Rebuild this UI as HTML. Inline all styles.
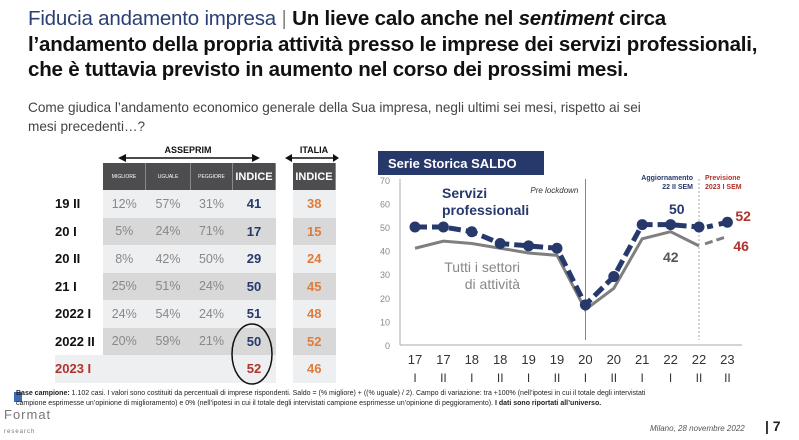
<!DOCTYPE html>
<html><head><meta charset="utf-8"><style>
body{margin:0;width:799px;height:440px;background:#fff;font-family:"Liberation Sans",sans-serif;position:relative;overflow:hidden}
.abs{position:absolute}
.title{left:28px;top:6px;font-size:20.5px;font-weight:bold;line-height:25.5px;color:#111;letter-spacing:-0.2px}
.sub{left:28px;top:98px;font-size:13.6px;line-height:19px;color:#444}
table{border-collapse:collapse}
td{padding:0;text-align:center;height:27.5px;font-size:12.5px}
</style></head><body>
<div class="abs title"><span style="color:#2b3f73;font-weight:normal">Fiducia andamento impresa</span> <span style="color:#888;font-weight:normal">|</span> Un lieve calo anche nel <i>sentiment</i> circa<br>l’andamento della propria attività presso le imprese dei servizi professionali,<br>che è tuttavia previsto in aumento nel corso dei prossimi mesi.</div>
<div class="abs sub">Come giudica l’andamento economico generale della Sua impresa, negli ultimi sei mesi, rispetto ai sei<br>mesi precedenti…?</div>

<svg class="abs" style="left:0;top:0" width="799" height="440">
<text x="188" y="153" font-size="9" font-weight="bold" text-anchor="middle" fill="#111">ASSEPRIM</text>
<line x1="122" y1="158" x2="256" y2="158" stroke="#111" stroke-width="1.5"/><polygon points="118,158 126,154 126,162" fill="#111"/><polygon points="260,158 252,154 252,162" fill="#111"/>
<text x="314" y="153" font-size="9" font-weight="bold" text-anchor="middle" fill="#111">ITALIA</text>
<line x1="289" y1="158" x2="336" y2="158" stroke="#111" stroke-width="1.5"/><polygon points="285,158 292,154 292,162" fill="#111"/><polygon points="339,158 333,154 333,162" fill="#111"/>
</svg>

<div class="abs" style="left:55px;top:163px">
<table id="t1"></table></div>
<div class="abs" style="left:293px;top:163px">
<table id="t2"></table></div>

<svg class="abs" style="left:230px;top:322px" width="50" height="64"><ellipse cx="22" cy="32" rx="20" ry="30" fill="none" stroke="#111" stroke-width="1.5"/></svg>

<svg id="chart" class="abs" style="left:350px;top:145px" width="449" height="245"></svg>

<div class="abs" style="left:14px;top:392px;width:8px;height:10px;background:#3b6bb5"></div>
<div class="abs" style="left:16px;top:389px;font-size:7px;color:#222;line-height:10px;width:760px"><b>Base campione:</b> 1.102 casi. I valori sono costituiti da percentuali di imprese rispondenti. Saldo = (% migliore) + ((% uguale) / 2). Campo di variazione: tra +100% (nell’ipotesi in cui il totale degli intervistati<br>campione esprimesse un’opinione di miglioramento) e 0% (nell’ipotesi in cui il totale degli intervistati campione esprimesse un’opinione di peggioramento). <b>I dati sono riportati all’universo.</b></div>
<div class="abs" style="left:4px;top:408px;font-size:13px;color:#777;letter-spacing:1px;line-height:14px">Format<br><span style="font-size:6px;letter-spacing:1px">research</span></div>
<div class="abs" style="left:650px;top:424px;font-size:8px;font-style:italic;color:#555">Milano, 28 novembre 2022</div>
<div class="abs" style="left:765px;top:418px;font-size:14px;font-weight:bold;color:#222">| 7</div>

<script>
const periods=["19 II","20 I","20 II","21 I","2022 I","2022 II","2023 I"];
const migliore=["12%","5%","8%","25%","24%","20%",""];
const uguale=["57%","24%","42%","51%","54%","59%",""];
const peggiore=["31%","71%","50%","24%","24%","21%",""];
const indice=[41,17,29,50,51,50,52];
const italia=[38,15,24,45,48,52,46];
const t1=document.getElementById('t1'),t2=document.getElementById('t2');
function hdr(tbl,cols){const tr=document.createElement('tr');cols.forEach(c=>{const td=document.createElement('td');td.textContent=c[0];td.style.width=c[1]+'px';td.style.background=c[0]===''?'transparent':'#4d4d4f';td.style.color='#fff';td.style.fontSize=c[0]==='INDICE'?'11px':'5px';td.style.fontWeight=c[0]==='INDICE'?'bold':'normal';td.style.borderRight=c[0]===''?'none':'1px solid #888';td.style.height='27px';tr.appendChild(td)});tbl.appendChild(tr)}
hdr(t1,[["",48],["MIGLIORE",42],["UGUALE",44],["PEGGIORE",41],["INDICE",42]]);
hdr(t2,[["INDICE",42]]);
periods.forEach((p,i)=>{
 const bg=i%2?'#d8d8d9':'#eeeff1';
 const tr=document.createElement('tr');
 
 
 const cells=[[p,i==6?'#b2322c':'#111','bold',13,i==6?'#eeeff1':'#fff'],[migliore[i],'#888','normal',12.5,bg],[uguale[i],'#888','normal',12.5,bg],[peggiore[i],'#888','normal',12.5,bg],[indice[i],i==6?'#b2322c':'#27396b','bold',13,bg]];
 cells.forEach((c,j)=>{const td=document.createElement('td');td.textContent=c[0];td.style.color=c[1];td.style.fontWeight=c[2];td.style.fontSize=c[3]+'px';td.style.background=c[4];if(j==0){td.style.textAlign='left';}tr.appendChild(td)});
 t1.appendChild(tr);
 const tr2=document.createElement('tr');
 const td=document.createElement('td');td.textContent=italia[i];td.style.color='#e07b39';td.style.fontWeight='bold';td.style.fontSize='13px';td.style.background=bg;tr2.appendChild(td);t2.appendChild(tr2);
});

const xTop=["17","17","18","18","19","19","20","20","21","22","22","23"];
const xBot=["I","II","I","II","I","II","I","II","I","I","II","II"];
const servizi=[50,50,48,43,42,41,17,29,51,51,50,52];
const tutti=[41,44,43,41,39,38,15,24,45,48,42,46];
const yTicks=[0,10,20,30,40,50,60,70];
const ns='http://www.w3.org/2000/svg',svg=document.getElementById('chart');
const X=i=>65+i*28.4, Y=v=>200-v*2.36;
function el(t,a,txt){const e=document.createElementNS(ns,t);for(const k in a)e.setAttribute(k,a[k]);if(txt!==undefined)e.textContent=txt;svg.appendChild(e);return e}
el('rect',{x:28,y:6,width:166,height:24,fill:'#27396b'});
el('text',{x:38,y:23,'font-size':13,'font-weight':'bold',fill:'#fff'},'Serie Storica SALDO');
el('line',{x1:50,y1:34,x2:50,y2:200,stroke:'#aaa'});
el('line',{x1:50,y1:200,x2:392,y2:200,stroke:'#aaa'});
yTicks.forEach(v=>{const t=el('text',{x:40,y:Y(v)+4,'font-size':9,fill:'#888','text-anchor':'end'},v);});
xTop.forEach((l,i)=>{const t=el('text',{x:X(i),y:219,'font-size':13,fill:'#333','text-anchor':'middle'},l);el('text',{x:X(i),y:237,'font-size':12,fill:'#333','text-anchor':'middle'},xBot[i])});
el('line',{x1:X(6),y1:34,x2:X(6),y2:195,stroke:'#666','stroke-width':0.8});
el('line',{x1:X(10),y1:34,x2:X(10),y2:195,stroke:'#aaa','stroke-dasharray':'2,2'});
el('text',{x:X(6)-7,y:48,'font-size':8,'font-style':'italic',fill:'#333','text-anchor':'end'},'Pre lockdown');
el('text',{x:X(10)-6,y:35,'font-size':7,'font-weight':'bold',fill:'#27396b','text-anchor':'end'},'Aggiornamento');
el('text',{x:X(10)-6,y:44,'font-size':7,'font-weight':'bold',fill:'#27396b','text-anchor':'end'},'22 II SEM');
el('text',{x:X(10)+6,y:35,'font-size':7,'font-weight':'bold',fill:'#b2322c'},'Previsione');
el('text',{x:X(10)+6,y:44,'font-size':7,'font-weight':'bold',fill:'#b2322c'},'2023 I SEM');
const pts=(a,n)=>a.slice(0,n).map((v,i)=>X(i)+','+Y(v)).join(' ');
const l1=el('polyline',{points:pts(tutti,11),fill:'none',stroke:'#7f7f7f','stroke-width':3});

el('line',{x1:X(10)+6,y1:Y(tutti[10])-2,x2:X(11),y2:Y(tutti[11]),stroke:'#7f7f7f','stroke-width':3,'stroke-dasharray':'8,4'});
const l2=el('polyline',{points:pts(servizi,11),fill:'none',stroke:'#27396b','stroke-width':5,'stroke-dasharray':'12,5'});

el('line',{x1:X(10)+8,y1:Y(servizi[10]),x2:X(11),y2:Y(servizi[11]),stroke:'#27396b','stroke-width':5,'stroke-dasharray':'6,6'});
servizi.forEach((v,i)=>{const c=el('circle',{cx:X(i),cy:Y(v),r:5.5,fill:'#27396b'});});
el('text',{x:92,y:53,'font-size':14,'font-weight':'bold',fill:'#27396b'},'Servizi');
el('text',{x:92,y:70,'font-size':14,'font-weight':'bold',fill:'#27396b'},'professionali');
el('text',{x:170,y:127,'font-size':14,fill:'#888','text-anchor':'end'},'Tutti i settori');
el('text',{x:170,y:144,'font-size':14,fill:'#888','text-anchor':'end'},'di attività');
el('text',{x:X(9)+14,y:69,'font-size':14,'font-weight':'bold',fill:'#27396b','text-anchor':'end'},servizi[10]);
el('text',{x:X(9)+8,y:117,'font-size':14,'font-weight':'bold',fill:'#555','text-anchor':'end'},tutti[10]);
el('text',{x:X(11)+8,y:76,'font-size':14,'font-weight':'bold',fill:'#b2322c'},servizi[11]);
el('text',{x:X(11)+6,y:106,'font-size':14,'font-weight':'bold',fill:'#b2322c'},tutti[11]);
</script>
</body></html>
